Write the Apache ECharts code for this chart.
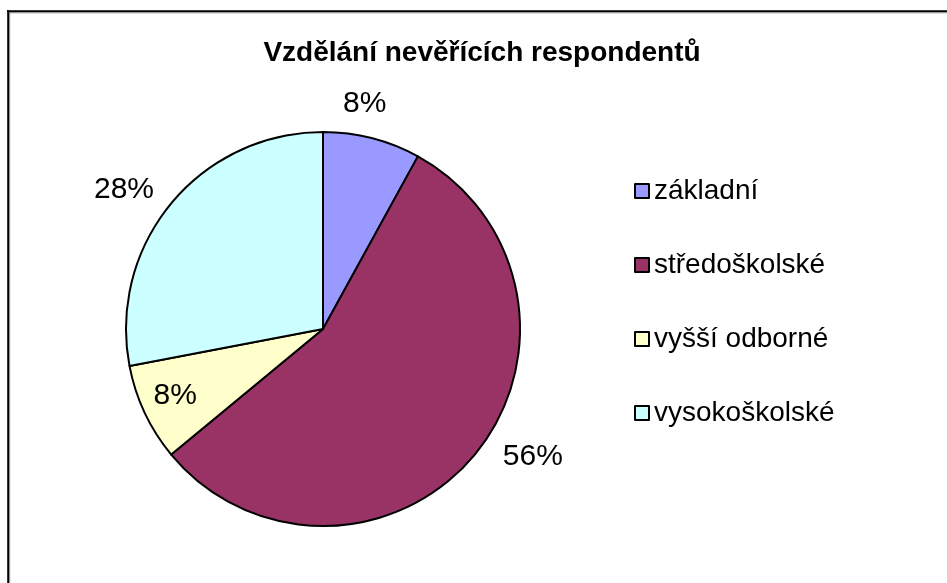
<!DOCTYPE html>
<html>
<head>
<meta charset="utf-8">
<script src="https://cdn.jsdelivr.net/npm/echarts@6/dist/echarts.min.js"></script>
<style>
  html, body { margin: 0; padding: 0; background: #fff; }
  #chart { width: 947px; height: 583px; }
</style>
</head>
<body>
<div id="chart"></div>
<script>
const TITLE = 'Vzdělání nevěřících respondentů'
const categories = ['základní', 'středoškolské', 'vyšší odborné', 'vysokoškolské']
const shares = [8, 56, 8, 28]
const sliceColors = ['#9999FF', '#993366', '#FFFFCC', '#CCFFFF']

const FONT = '"Liberation Sans", Arial, sans-serif'

// where each percentage sits, Excel "best fit" style
const labelPlacement = [
  { length: 36, length2: -43 },
  { length: 4, length2: 20 },
  { length: -40, length2: -21 },
  { length: 21, length2: -4 },
]

const chart = echarts.init(document.getElementById('chart'))

chart.setOption({
  backgroundColor: '#fff',
  animation: false,
  color: sliceColors,
  textStyle: { fontFamily: FONT },
  title: {
    text: TITLE,
    left: 482,
    top: 39,
    textAlign: 'center',
    padding: 0,
    textStyle: { fontFamily: FONT, fontSize: 28, fontWeight: 'bold', color: '#000' },
  },
  legend: {
    orient: 'vertical',
    left: 634,
    top: 176,
    padding: 0,
    itemGap: 44,
    itemWidth: 14,
    itemHeight: 14,
    icon: 'rect',
    itemStyle: { borderColor: '#000', borderWidth: 2 },
    textStyle: { fontFamily: FONT, fontSize: 28, color: '#000', lineHeight: 30 },
    data: categories,
  },
  graphic: [
    { type: 'line', shape: { x1: 7, y1: 11.3, x2: 947, y2: 11.3 }, style: { stroke: '#000', lineWidth: 2 } },
    { type: 'line', shape: { x1: 9, y1: 12.8, x2: 947, y2: 12.8 }, style: { stroke: '#888', lineWidth: 1 } },
    { type: 'line', shape: { x1: 8.2, y1: 10.3, x2: 8.2, y2: 583 }, style: { stroke: '#000', lineWidth: 2 } },
    { type: 'line', shape: { x1: 9.7, y1: 12.3, x2: 9.7, y2: 583 }, style: { stroke: '#888', lineWidth: 1 } },
  ],
  series: [
    {
      type: 'pie',
      center: [323, 329],
      radius: 197,
      startAngle: 90,
      clockwise: true,
      avoidLabelOverlap: false,
      itemStyle: { borderColor: '#000', borderWidth: 2 },
      emphasis: { disabled: true },
      label: {
        show: true,
        position: 'outside',
        formatter: '{d}%',
        fontFamily: FONT,
        fontSize: 30,
        color: '#000',
      },
      labelLine: { show: false },
      data: categories.map((name, i) => ({
        name,
        value: shares[i],
        labelLine: { show: false, ...labelPlacement[i] },
      })),
    },
  ],
})
</script>
</body>
</html>
